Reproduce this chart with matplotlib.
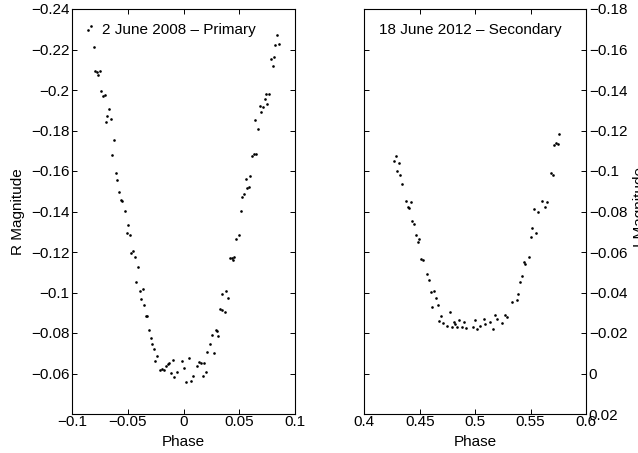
import matplotlib
matplotlib.use("Agg")
import matplotlib.pyplot as plt
from matplotlib.ticker import FuncFormatter

plt.rcParams['font.family'] = ['Liberation Sans', 'DejaVu Sans']

# Primary eclipse, 2 June 2008 (R band)
phase_r = [-0.0856, -0.0835, -0.0808, -0.0793, -0.0775, -0.0754, -0.0766, -0.0739, -0.0724, -0.0706,
           -0.0670, -0.0685, -0.0694, -0.0655, -0.0625, -0.0640, -0.0610, -0.0598, -0.0580, -0.0565,
           -0.0553, -0.0523, -0.0496, -0.0511, -0.0481, -0.0472, -0.0451, -0.0439, -0.0412, -0.0424,
           -0.0394, -0.0367, -0.0382, -0.0355, -0.0340, -0.0325, -0.0310, -0.0295, -0.0280, -0.0268,
           -0.0253, -0.0241, -0.0214, -0.0193, -0.0172, -0.0154, -0.0142, -0.0127, -0.0112, -0.0097,
           -0.0085, -0.0058, -0.0013, 0.0002, 0.0020, 0.0047, 0.0071, 0.0088, 0.0121, 0.0142,
           0.0157, 0.0172, 0.0184, 0.0202, 0.0214, 0.0241, 0.0259, 0.0271, 0.0289, 0.0301,
           0.0313, 0.0331, 0.0349, 0.0373, 0.0343, 0.0385, 0.0403, 0.0415, 0.0433, 0.0448,
           0.0457, 0.0475, 0.0496, 0.0515, 0.0530, 0.0545, 0.0560, 0.0575, 0.0587, 0.0602,
           0.0614, 0.0631, 0.0655, 0.0643, 0.0670, 0.0688, 0.0700, 0.0718, 0.0733, 0.0742,
           0.0754, 0.0772, 0.0787, 0.0802, 0.0814, 0.0826, 0.0844, 0.0859]
mag_r = [-0.2295, -0.2316, -0.2211, -0.2093, -0.2091, -0.2094, -0.2075, -0.1996, -0.1970, -0.1976,
         -0.1904, -0.1871, -0.1841, -0.1855, -0.1751, -0.1679, -0.1590, -0.1556, -0.1496, -0.1457,
         -0.1452, -0.1403, -0.1332, -0.1294, -0.1284, -0.1193, -0.1207, -0.1174, -0.1128, -0.1050,
         -0.1009, -0.1016, -0.0970, -0.0939, -0.0885, -0.0885, -0.0814, -0.0773, -0.0745, -0.0720,
         -0.0664, -0.0686, -0.0618, -0.0622, -0.0617, -0.0638, -0.0646, -0.0654, -0.0602, -0.0667,
         -0.0582, -0.0608, -0.0664, -0.0628, -0.0557, -0.0678, -0.0561, -0.0590, -0.0635, -0.0655,
         -0.0650, -0.0590, -0.0650, -0.0607, -0.0705, -0.0747, -0.0791, -0.0699, -0.0817, -0.0811,
         -0.0786, -0.0917, -0.0914, -0.0906, -0.0993, -0.1006, -0.0972, -0.1170, -0.1169, -0.1161,
         -0.1174, -0.1262, -0.1285, -0.1404, -0.1470, -0.1485, -0.1560, -0.1514, -0.1521, -0.1574,
         -0.1672, -0.1684, -0.1684, -0.1851, -0.1809, -0.1919, -0.1892, -0.1915, -0.1955, -0.1979,
         -0.1933, -0.1981, -0.2155, -0.2119, -0.2165, -0.2223, -0.2272, -0.2229]

# Secondary eclipse, 18 June 2012 (I band)
phase_i = [0.4265, 0.4283, 0.4313, 0.4298, 0.4325, 0.4343, 0.4379, 0.4394, 0.4406, 0.4421,
           0.4433, 0.4448, 0.4469, 0.4484, 0.4496, 0.4514, 0.4532, 0.4569, 0.4584, 0.4599,
           0.4629, 0.4647, 0.4614, 0.4662, 0.4695, 0.4677, 0.4710, 0.4743, 0.4776, 0.4791,
           0.4806, 0.4821, 0.4836, 0.4854, 0.4884, 0.4899, 0.4914, 0.4984, 0.4999, 0.5014,
           0.5041, 0.5077, 0.5092, 0.5131, 0.5161, 0.5179, 0.5197, 0.5239, 0.5269, 0.5284,
           0.5333, 0.5375, 0.5390, 0.5408, 0.5423, 0.5438, 0.5453, 0.5483, 0.5501, 0.5513,
           0.5546, 0.5531, 0.5567, 0.5600, 0.5630, 0.5645, 0.5681, 0.5700, 0.5712, 0.5730,
           0.5745, 0.5760]
mag_i = [-0.1048, -0.1072, -0.1039, -0.0998, -0.0980, -0.0936, -0.0854, -0.0822, -0.0816, -0.0845,
         -0.0753, -0.0740, -0.0685, -0.0648, -0.0664, -0.0565, -0.0559, -0.0492, -0.0460, -0.0403,
         -0.0408, -0.0373, -0.0329, -0.0337, -0.0286, -0.0257, -0.0250, -0.0235, -0.0304, -0.0229,
         -0.0253, -0.0242, -0.0230, -0.0263, -0.0229, -0.0255, -0.0224, -0.0232, -0.0263, -0.0222,
         -0.0234, -0.0270, -0.0243, -0.0255, -0.0220, -0.0287, -0.0270, -0.0248, -0.0287, -0.0279,
         -0.0351, -0.0364, -0.0392, -0.0453, -0.0483, -0.0552, -0.0541, -0.0575, -0.0674, -0.0720,
         -0.0695, -0.0813, -0.0796, -0.0852, -0.0822, -0.0849, -0.0991, -0.0981, -0.1128, -0.1138,
         -0.1135, -0.1181]

xticks_r = [-0.1, -0.05, 0, 0.05, 0.1]
yticks_r = [-0.24, -0.22, -0.2, -0.18, -0.16, -0.14, -0.12, -0.1, -0.08, -0.06]
xticks_i = [0.4, 0.45, 0.5, 0.55, 0.6]
yticks_i = [-0.18, -0.16, -0.14, -0.12, -0.1, -0.08, -0.06, -0.04, -0.02, 0, 0.02]

FS = 11
fmt = FuncFormatter(lambda v, p: ('%g' % round(v, 4)).replace('-', '\u2212'))

fig = plt.figure(figsize=(6.38, 4.53), dpi=100)
W, H = 638.0, 453.0
ax1 = fig.add_axes([72.3 / W, 39 / H, 222.4 / W, 405 / H])
ax2 = fig.add_axes([364.3 / W, 39 / H, 221.7 / W, 405 / H])

ax1.plot(phase_r, mag_r, 'o', color='black', markersize=1.9, markeredgewidth=0)
ax2.plot(phase_i, mag_i, 'o', color='black', markersize=1.9, markeredgewidth=0)

ax1.set_xlim(-0.1, 0.1)
ax1.set_ylim(-0.04, -0.24)
ax1.set_xticks(xticks_r)
ax1.set_yticks(yticks_r)
ax2.set_xlim(0.4, 0.6)
ax2.set_ylim(0.02, -0.18)
ax2.set_xticks(xticks_i)
ax2.set_yticks(yticks_i)

for ax in (ax1, ax2):
    ax.xaxis.set_major_formatter(fmt)
    ax.yaxis.set_major_formatter(fmt)
    for s in ax.spines.values():
        s.set_linewidth(0.8)
    ax.tick_params(direction='in', length=3.5, width=0.7, top=True, right=True,
                   left=True, bottom=True, labelsize=FS)
    ax.tick_params(axis='x', pad=1)
    ax.tick_params(axis='y', pad=2)
    ax.set_xlabel('Phase', fontsize=FS, labelpad=4)

ax2.yaxis.tick_right()
ax2.tick_params(axis='y', left=True, right=True, labelleft=False, labelright=True)

ax1.set_ylabel('R Magnitude', fontsize=FS, labelpad=4)
fig.text(633 / W, 1 - 207 / H, 'I Magnitude', rotation=90, ha='left', va='center', fontsize=FS)

ax1.text(0.134, 0.948, '2 June 2008 \u2013 Primary', transform=ax1.transAxes,
         ha='left', va='center', fontsize=FS)
ax2.text(0.067, 0.948, '18 June 2012 \u2013 Secondary', transform=ax2.transAxes,
         ha='left', va='center', fontsize=FS)

fig.savefig('out.png', dpi=100)
